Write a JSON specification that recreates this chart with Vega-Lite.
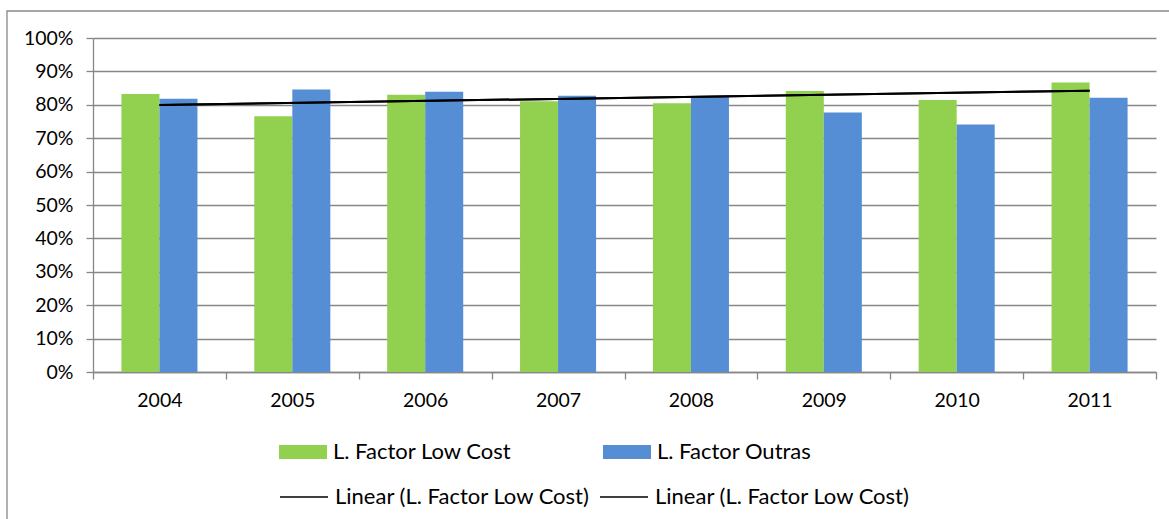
{
  "$schema": "https://vega.github.io/schema/vega-lite/v6.json",
  "autosize": "none",
  "width": 1063,
  "height": 334,
  "padding": {"left": 93, "top": 38, "right": 13, "bottom": 147},
  "background": "white",
  "config": {
    "font": "Lato",
    "view": {"stroke": null},
    "axis": {
      "labelFont": "Lato",
      "labelFontSize": 19.5,
      "labelColor": "#000000",
      "domainColor": "#878787",
      "domainWidth": 1.3,
      "tickColor": "#878787",
      "tickWidth": 1.3,
      "tickSize": 7
    },
    "legend": {
      "labelFont": "Lato",
      "labelFontSize": 22,
      "labelColor": "#000000",
      "labelLimit": 500,
      "padding": 0
    }
  },
  "data": {
    "values": [
      {"year": 2004, "series": "L. Factor Low Cost", "value": 0.832},
      {"year": 2004, "series": "L. Factor Outras", "value": 0.818},
      {"year": 2005, "series": "L. Factor Low Cost", "value": 0.766},
      {"year": 2005, "series": "L. Factor Outras", "value": 0.846},
      {"year": 2006, "series": "L. Factor Low Cost", "value": 0.830},
      {"year": 2006, "series": "L. Factor Outras", "value": 0.839},
      {"year": 2007, "series": "L. Factor Low Cost", "value": 0.811},
      {"year": 2007, "series": "L. Factor Outras", "value": 0.827},
      {"year": 2008, "series": "L. Factor Low Cost", "value": 0.805},
      {"year": 2008, "series": "L. Factor Outras", "value": 0.823},
      {"year": 2009, "series": "L. Factor Low Cost", "value": 0.841},
      {"year": 2009, "series": "L. Factor Outras", "value": 0.777},
      {"year": 2010, "series": "L. Factor Low Cost", "value": 0.814},
      {"year": 2010, "series": "L. Factor Outras", "value": 0.741},
      {"year": 2011, "series": "L. Factor Low Cost", "value": 0.867},
      {"year": 2011, "series": "L. Factor Outras", "value": 0.821}
    ]
  },
  "encoding": {
    "x": {
      "field": "year",
      "type": "ordinal",
      "title": null,
      "scale": {"paddingInner": 0, "paddingOuter": 0},
      "axis": {
        "labelAngle": 0,
        "tickBand": "extent",
        "labelPadding": 12,
        "grid": false
      }
    },
    "y": {
      "field": "value",
      "type": "quantitative",
      "title": null,
      "scale": {"domain": [0, 1], "nice": false},
      "axis": {
        "values": [0, 0.1, 0.2, 0.3, 0.4, 0.5, 0.6, 0.7, 0.8, 0.9, 1],
        "format": ".0%",
        "grid": true,
        "gridColor": "#878787",
        "gridWidth": 1.3,
        "labelPadding": 13
      }
    }
  },
  "layer": [
    {
      "description": "Outer chart frame",
      "data": {"values": [{}]},
      "mark": {"type": "rect", "fill": null, "stroke": "#898989", "strokeWidth": 1.3},
      "encoding": {
        "x": {"value": -86},
        "x2": {"value": 1200},
        "y": {"value": -27},
        "y2": {"value": 600}
      }
    },
    {
      "mark": {"type": "bar"},
      "encoding": {
        "xOffset": {
          "field": "series",
          "type": "nominal",
          "scale": {"paddingInner": 0, "paddingOuter": 0.7474}
        },
        "fill": {
          "field": "series",
          "type": "nominal",
          "scale": {
            "domain": ["L. Factor Low Cost", "L. Factor Outras"],
            "range": ["#92D050", "#558ED5"]
          },
          "legend": {
            "title": null,
            "orient": "none",
            "direction": "horizontal",
            "legendX": 186,
            "legendY": 390,
            "symbolType": "M-1,-0.29L1,-0.29L1,0.29L-1,0.29Z",
            "symbolSize": 2304,
            "symbolStrokeWidth": 0,
            "symbolOpacity": 1,
            "labelOffset": 6,
            "columnPadding": 91
          }
        }
      }
    },
    {
      "transform": [
        {"filter": "datum.series === 'L. Factor Low Cost'"},
        {"regression": "value", "on": "year"}
      ],
      "mark": {"type": "line", "strokeWidth": 2},
      "encoding": {
        "stroke": {
          "datum": "trend1",
          "scale": {"domain": ["trend1", "trend2"], "range": ["#000000", "#000000"]},
          "legend": {
            "title": null,
            "orient": "none",
            "direction": "horizontal",
            "legendX": 186,
            "legendY": 434,
            "symbolType": "stroke",
            "symbolSize": 2304,
            "symbolStrokeWidth": 1.5,
            "labelOffset": 6,
            "columnPadding": 6,
            "labelExpr": "'Linear (L. Factor Low Cost)'"
          }
        }
      }
    },
    {
      "transform": [
        {"filter": "datum.series === 'L. Factor Low Cost'"},
        {"regression": "value", "on": "year"}
      ],
      "mark": {"type": "line", "strokeWidth": 2},
      "encoding": {
        "stroke": {"datum": "trend2"}
      }
    }
  ]
}
